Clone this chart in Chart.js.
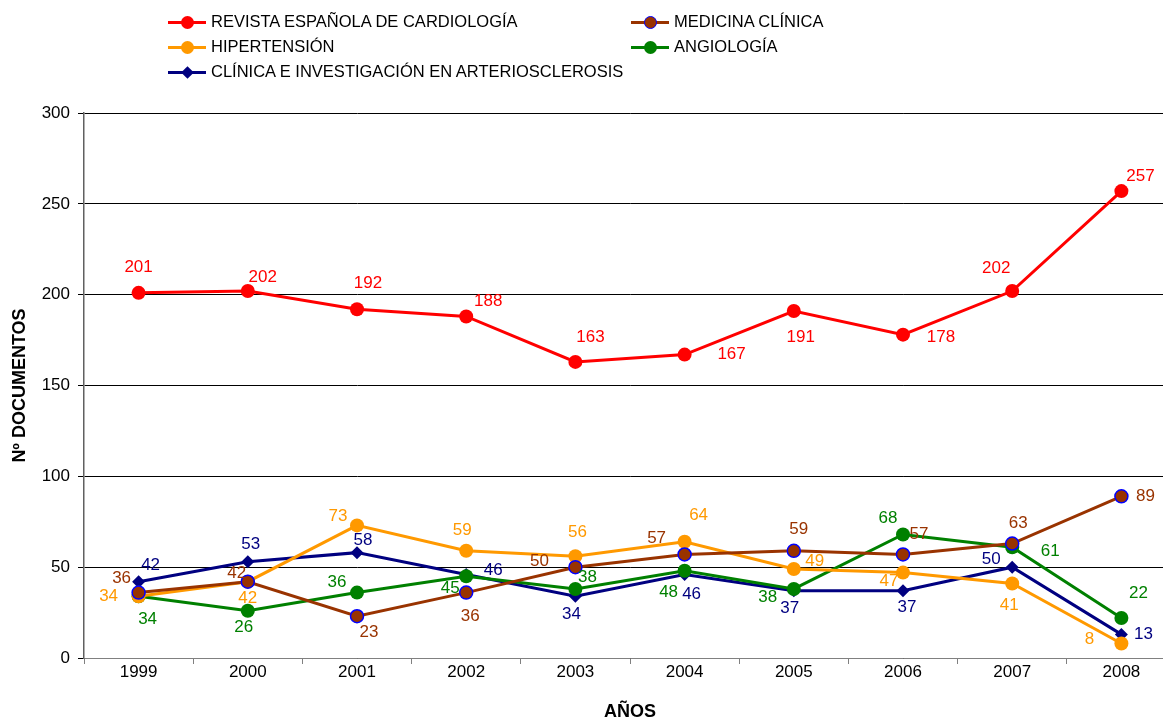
<!DOCTYPE html>
<html>
<head>
<meta charset="utf-8">
<script src="https://cdn.jsdelivr.net/npm/chart.js@4"></script>
<style>
  html, body { margin: 0; padding: 0; background: #fff; overflow: hidden; }
  #wrap { position: relative; width: 1163px; height: 721px; overflow: hidden; }
  #chart { position: absolute; left: 0; top: 0; }
  .leg { position: absolute; height: 20px; font: 16.5px "Liberation Sans", Arial, sans-serif; color: #000; white-space: nowrap; }
  .leg .ln { position: absolute; left: 0; top: 9px; width: 38px; height: 3px; }
  .leg .mk { position: absolute; left: 13px; top: 4px; width: 13px; height: 13px; border-radius: 50%; box-sizing: border-box; }
  .leg .mk.dia { left: 15px; top: 6px; width: 9px; height: 9px; border-radius: 0; transform: rotate(45deg); }
  .leg .tx { position: absolute; left: 43px; top: 0px; }
</style>
</head>
<body>
<div id="wrap">
  <canvas id="chart" width="1184" height="721"></canvas>
  <div id="legend"></div>
</div>
<script>
// data
const years = ['1999', '2000', '2001', '2002', '2003', '2004', '2005', '2006', '2007', '2008'];
const revista = [201, 202, 192, 188, 163, 167, 191, 178, 202, 257];
const medicina = [36, 42, 23, 36, 50, 57, 59, 57, 63, 89];
const hipertension = [34, 42, 73, 59, 56, 64, 49, 47, 41, 8];
const angiologia = [34, 26, 36, 45, 38, 48, 38, 68, 61, 22];
const clinicaInv = [42, 53, 58, 46, 34, 46, 37, 37, 50, 13];
const yTicks = [0, 50, 100, 150, 200, 250, 300];

// where each value label sits relative to its point (dx, dy in px)
const revistaLbl = [[0,-26],[15,-14],[11,-26],[22,-15],[15,-25],[47,0],[7,26],[38,3],[-16,-23],[19,-15]];
const medicinaLbl = [[-17,-14],[-11,-8],[12,16],[4,24],[-36,-6],[-28,-16],[5,-22],[16,-20],[6,-20],[24,0]];
const hiperLbl = [[-30,0],[0,17],[-19,-9],[-4,-21],[2,-24],[14,-26],[21,-8],[-14,9],[-3,22],[-32,-4]];
const angioLbl = [[9,23],[-4,17],[-20,-10],[-16,12],[12,-12],[-16,22],[-26,8],[-15,-16],[38,4],[17,-25]];
const clinicaLbl = [[12,-16],[3,-17],[6,-12],[27,-4],[-4,18],[7,20],[-4,18],[4,17],[-21,-8],[22,0]];

const FONT = '"Liberation Sans", Arial, sans-serif';

const datasets = [
    { label: 'REVISTA ESPAÑOLA DE CARDIOLOGÍA', data: revista, lbl: revistaLbl, labelColor: '#FF0000',
      borderColor: '#FF0000', backgroundColor: '#FF0000', pointStyle: 'circle', pointRadius: 7, pointBorderWidth: 0 },
    { label: 'MEDICINA CLÍNICA', data: medicina, lbl: medicinaLbl, labelColor: '#993300',
      borderColor: '#993300', backgroundColor: '#993300', pointBorderColor: '#0000FF', pointStyle: 'circle', pointRadius: 6.5, pointBorderWidth: 1.5 },
    { label: 'HIPERTENSIÓN', data: hipertension, lbl: hiperLbl, labelColor: '#FF9900',
      borderColor: '#FF9900', backgroundColor: '#FF9900', pointStyle: 'circle', pointRadius: 7, pointBorderWidth: 0 },
    { label: 'ANGIOLOGÍA', data: angiologia, lbl: angioLbl, labelColor: '#008000',
      borderColor: '#008000', backgroundColor: '#008000', pointStyle: 'circle', pointRadius: 7, pointBorderWidth: 0 },
    { label: 'CLÍNICA E INVESTIGACIÓN EN ARTERIOSCLEROSIS', data: clinicaInv, lbl: clinicaLbl, labelColor: '#000080',
      borderColor: '#000080', backgroundColor: '#000080', pointStyle: 'rectRot', pointRadius: 6.5, pointBorderWidth: 0 }
];
datasets.forEach(d => { d.borderWidth = 3; d.tension = 0; d.pointHoverRadius = d.pointRadius; });

// value labels next to points
const valueLabels = {
    id: 'valueLabels',
    afterDatasetsDraw(chart) {
        const ctx = chart.ctx;
        ctx.save();
        ctx.font = '17px ' + FONT;
        ctx.textAlign = 'center';
        ctx.textBaseline = 'middle';
        chart.data.datasets.forEach((ds, i) => {
            const meta = chart.getDatasetMeta(i);
            ctx.fillStyle = ds.labelColor;
            meta.data.forEach((pt, j) => {
                const off = ds.lbl[j];
                ctx.fillText(String(ds.data[j]), pt.x + off[0], pt.y + off[1]);
            });
        });
        ctx.restore();
    }
};

const chart = new Chart(document.getElementById('chart').getContext('2d'), {
    type: 'line',
    data: { labels: years, datasets: datasets },
    options: {
        responsive: false,
        animation: false,
        layout: { padding: { top: 113, right: 8, left: 0, bottom: 0 } },
        plugins: { legend: { display: false }, tooltip: { enabled: false } },
        scales: {
            x: {
                offset: true,
                grid: { offset: true, drawOnChartArea: false, drawTicks: true, tickLength: 6, color: '#808080' },
                border: { color: '#808080', width: 1 },
                ticks: { color: '#000', font: { family: FONT, size: 17, lineHeight: 1 }, padding: 0, maxRotation: 0 },
                title: { display: true, text: 'AÑOS', color: '#000', font: { family: FONT, size: 18, weight: 'bold', lineHeight: 1 }, padding: { top: 0, bottom: 0 } },
                afterFit(scale) { scale.height = 63; }
            },
            y: {
                min: 0, max: 300,
                afterBuildTicks(scale) { scale.ticks = yTicks.map(v => ({ value: v })); },
                grid: { color: '#000', lineWidth: 1, tickLength: 6 },
                border: { color: '#606060', width: 1.5 },
                ticks: { color: '#000', font: { family: FONT, size: 17 }, padding: 8 },
                title: { display: true, text: 'Nº DOCUMENTOS', color: '#000', font: { family: FONT, size: 18, weight: 'bold', lineHeight: 1 }, padding: { top: 11, bottom: 0 } },
                afterFit(scale) { scale.width = 84; }
            }
        }
    },
    plugins: [valueLabels]
});

// legend, two columns like the original
const legendPos = [[168, 12], [631, 12], [168, 37], [631, 37], [168, 62]];
const legend = document.getElementById('legend');
datasets.forEach((d, i) => {
    const item = document.createElement('div');
    item.className = 'leg';
    item.style.left = legendPos[i][0] + 'px';
    item.style.top = legendPos[i][1] + 'px';
    const mkClass = d.pointStyle === 'rectRot' ? 'mk dia' : 'mk';
    const border = d.pointBorderWidth ? `border:1.5px solid ${d.pointBorderColor};` : '';
    item.innerHTML = `<span class="ln" style="background:${d.borderColor}"></span>` +
        `<span class="${mkClass}" style="background:${d.backgroundColor};${border}"></span>` +
        `<span class="tx">${d.label}</span>`;
    legend.appendChild(item);
});
</script>
</body>
</html>
